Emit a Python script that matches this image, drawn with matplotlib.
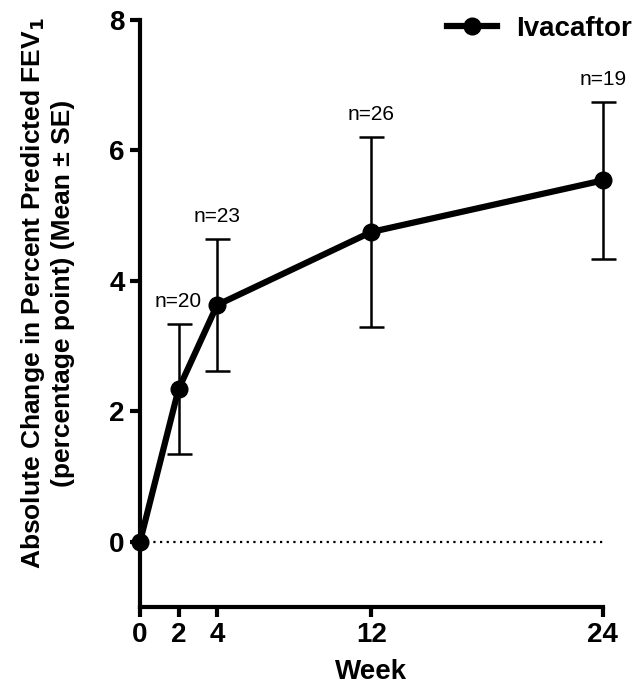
import matplotlib
matplotlib.use("Agg")
import matplotlib.pyplot as plt

plt.rcParams["font.family"] = ["Liberation Sans", "DejaVu Sans"]

weeks = [0, 2, 4, 12, 24]
mean_change = [0.0, 2.34, 3.63, 4.75, 5.54]
se = [0.0, 1.0, 1.01, 1.46, 1.2]
n_labels = ["", "n=20", "n=23", "n=26", "n=19"]

fig = plt.figure(figsize=(6.42, 6.86), dpi=100)
ax = fig.add_axes([0.218, 0.115, 0.721, 0.856])

# reference line at zero
ax.plot([0, 24], [0, 0], linestyle=(0, (1, 2)), color="black", linewidth=1.6)

# error bars (skip baseline point)
ax.errorbar(weeks[1:], mean_change[1:], yerr=se[1:], fmt="none",
            ecolor="black", elinewidth=1.8, capsize=9, capthick=1.8,
            clip_on=False, zorder=2)
ax.plot(weeks, mean_change, color="black", linewidth=4.5, marker="o",
        markersize=12, clip_on=False, zorder=3, label="Ivacaftor")

for w, m, s, lab in zip(weeks, mean_change, se, n_labels):
    if lab:
        ax.text(w, m + s + 0.2, lab, ha="center", va="bottom", fontsize=15)

ax.set_xlim(0, 24)
ax.set_ylim(-1, 8)
ax.set_xticks(weeks)
ax.set_yticks([0, 2, 4, 6, 8])
for sp in ("top", "right"):
    ax.spines[sp].set_visible(False)
for sp in ("left", "bottom"):
    ax.spines[sp].set_linewidth(3)
ax.tick_params(direction="out", length=7, width=3, labelsize=20, pad=4)
for lbl in ax.get_xticklabels() + ax.get_yticklabels():
    lbl.set_fontweight("bold")

ax.set_xlabel("Week", fontsize=20, fontweight="bold", labelpad=8)
ax.set_ylabel("Absolute Change in Percent Predicted FEV$_\\mathbf{1}$\n"
              "(percentage point) (Mean \u00b1 SE)",
              fontsize=19, fontweight="bold", linespacing=1.2)
ax.yaxis.set_label_coords(-0.14, 0.535)

fig.legend(loc="upper right", bbox_to_anchor=(632 / 642, 1 - 16 / 686),
           frameon=False, prop={"size": 20, "weight": "bold"},
           handlelength=1.8, handletextpad=0.7, borderpad=0, borderaxespad=0)

fig.savefig("out.png", dpi=100)
